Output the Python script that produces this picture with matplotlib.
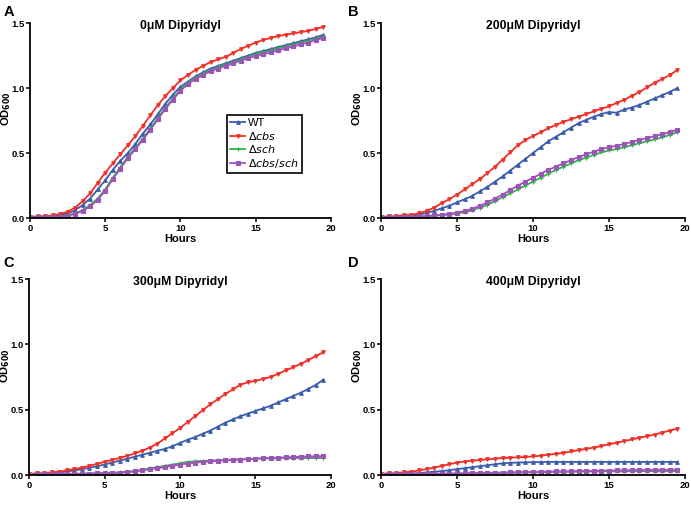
import numpy as np
import matplotlib
matplotlib.use("Agg")
import matplotlib.pyplot as plt

plt.rcParams['font.family'] = ['Liberation Sans', 'DejaVu Sans']

# sampling times (hours)
hours = np.arange(0, 20, 0.5)

# panel A - 0uM dipyridyl
a_wt = [0.005, 0.007, 0.01, 0.013, 0.02, 0.035, 0.06, 0.10, 0.15, 0.22,
        0.29, 0.37, 0.44, 0.50, 0.57, 0.65, 0.72, 0.80, 0.88, 0.95,
        1.01, 1.05, 1.09, 1.12, 1.15, 1.17, 1.19, 1.21, 1.23, 1.25,
        1.27, 1.285, 1.30, 1.315, 1.33, 1.345, 1.36, 1.375, 1.39, 1.41]
a_cbs = [0.01, 0.012, 0.015, 0.02, 0.03, 0.05, 0.08, 0.13, 0.19, 0.27,
         0.35, 0.42, 0.49, 0.56, 0.63, 0.71, 0.79, 0.87, 0.94, 1.00,
         1.06, 1.10, 1.14, 1.17, 1.20, 1.22, 1.24, 1.27, 1.30, 1.325,
         1.35, 1.37, 1.385, 1.40, 1.41, 1.42, 1.43, 1.44, 1.455, 1.47]
a_sch = [0.003, 0.004, 0.005, 0.008, 0.012, 0.02, 0.035, 0.06, 0.10, 0.15,
         0.22, 0.31, 0.39, 0.47, 0.54, 0.61, 0.69, 0.77, 0.85, 0.92,
         0.99, 1.04, 1.08, 1.11, 1.14, 1.16, 1.18, 1.20, 1.22, 1.24,
         1.26, 1.275, 1.29, 1.305, 1.32, 1.335, 1.35, 1.365, 1.38, 1.40]
a_dbl = [0.003, 0.004, 0.005, 0.007, 0.011, 0.018, 0.032, 0.055, 0.09, 0.14,
         0.21, 0.30, 0.38, 0.46, 0.53, 0.60, 0.68, 0.76, 0.84, 0.91,
         0.98, 1.03, 1.07, 1.10, 1.13, 1.15, 1.17, 1.19, 1.21, 1.23,
         1.245, 1.26, 1.275, 1.29, 1.305, 1.32, 1.335, 1.35, 1.37, 1.385]

# panel B - 200uM
b_wt = [0.005, 0.006, 0.008, 0.01, 0.015, 0.025, 0.04, 0.055, 0.075, 0.095,
        0.12, 0.145, 0.17, 0.205, 0.24, 0.28, 0.32, 0.365, 0.41, 0.455,
        0.50, 0.545, 0.59, 0.625, 0.66, 0.695, 0.73, 0.755, 0.78, 0.80,
        0.815, 0.81, 0.835, 0.85, 0.87, 0.895, 0.92, 0.945, 0.97, 1.00]
b_cbs = [0.01, 0.012, 0.015, 0.02, 0.025, 0.035, 0.055, 0.08, 0.115, 0.145,
         0.18, 0.22, 0.26, 0.30, 0.345, 0.395, 0.45, 0.505, 0.56, 0.60,
         0.63, 0.66, 0.69, 0.715, 0.74, 0.76, 0.78, 0.80, 0.82, 0.84,
         0.86, 0.885, 0.91, 0.94, 0.97, 1.005, 1.04, 1.07, 1.10, 1.14]
b_sch = [0.003, 0.004, 0.005, 0.006, 0.008, 0.01, 0.013, 0.017, 0.022, 0.028,
         0.035, 0.045, 0.06, 0.08, 0.10, 0.13, 0.16, 0.19, 0.22, 0.25,
         0.28, 0.31, 0.34, 0.37, 0.395, 0.42, 0.445, 0.465, 0.485, 0.505,
         0.52, 0.53, 0.545, 0.56, 0.575, 0.59, 0.605, 0.62, 0.64, 0.66]
b_dbl = [0.005, 0.005, 0.006, 0.008, 0.01, 0.012, 0.015, 0.02, 0.025, 0.032,
         0.04, 0.055, 0.07, 0.095, 0.12, 0.15, 0.18, 0.215, 0.25, 0.28,
         0.31, 0.34, 0.37, 0.395, 0.42, 0.445, 0.47, 0.49, 0.51, 0.53,
         0.545, 0.555, 0.57, 0.585, 0.60, 0.615, 0.63, 0.645, 0.66, 0.68]

# panel C - 300uM
c_wt = [0.005, 0.007, 0.01, 0.014, 0.02, 0.027, 0.035, 0.045, 0.055, 0.067,
        0.08, 0.095, 0.11, 0.125, 0.14, 0.155, 0.17, 0.185, 0.20, 0.22,
        0.245, 0.27, 0.29, 0.315, 0.34, 0.37, 0.40, 0.425, 0.45, 0.47,
        0.49, 0.51, 0.53, 0.555, 0.58, 0.605, 0.63, 0.66, 0.69, 0.73]
c_cbs = [0.01, 0.012, 0.015, 0.02, 0.025, 0.035, 0.045, 0.057, 0.07, 0.085,
         0.10, 0.115, 0.13, 0.147, 0.165, 0.185, 0.21, 0.24, 0.28, 0.32,
         0.36, 0.405, 0.45, 0.495, 0.54, 0.58, 0.62, 0.655, 0.69, 0.71,
         0.72, 0.735, 0.75, 0.775, 0.80, 0.825, 0.85, 0.88, 0.91, 0.94]
c_sch = [0.003, 0.004, 0.005, 0.006, 0.007, 0.008, 0.009, 0.01, 0.011, 0.013,
         0.015, 0.017, 0.02, 0.025, 0.03, 0.04, 0.05, 0.06, 0.07, 0.08,
         0.09, 0.10, 0.105, 0.108, 0.11, 0.113, 0.115, 0.118, 0.12, 0.122,
         0.125, 0.126, 0.127, 0.128, 0.13, 0.13, 0.13, 0.13, 0.13, 0.13]
c_dbl = [0.003, 0.004, 0.005, 0.006, 0.007, 0.008, 0.009, 0.01, 0.011, 0.012,
         0.014, 0.016, 0.018, 0.022, 0.027, 0.035, 0.045, 0.052, 0.06, 0.07,
         0.08, 0.088, 0.095, 0.10, 0.105, 0.109, 0.112, 0.115, 0.118, 0.121,
         0.125, 0.128, 0.13, 0.133, 0.135, 0.138, 0.14, 0.142, 0.143, 0.145]

# panel D - 400uM
d_wt = [0.005, 0.006, 0.007, 0.008, 0.01, 0.015, 0.02, 0.025, 0.03, 0.037,
        0.045, 0.052, 0.06, 0.067, 0.075, 0.082, 0.09, 0.093, 0.095, 0.097,
        0.098, 0.099, 0.10, 0.10, 0.10, 0.10, 0.10, 0.10, 0.10, 0.10,
        0.10, 0.10, 0.10, 0.10, 0.10, 0.10, 0.10, 0.10, 0.10, 0.10]
d_cbs = [0.01, 0.012, 0.015, 0.02, 0.025, 0.035, 0.045, 0.057, 0.07, 0.082,
         0.095, 0.103, 0.11, 0.115, 0.12, 0.125, 0.13, 0.133, 0.135, 0.138,
         0.142, 0.148, 0.155, 0.162, 0.17, 0.18, 0.19, 0.20, 0.21, 0.222,
         0.235, 0.247, 0.26, 0.272, 0.285, 0.297, 0.31, 0.325, 0.34, 0.355]
d_sch = [0.003, 0.004, 0.004, 0.005, 0.005, 0.006, 0.006, 0.007, 0.008, 0.009,
         0.01, 0.011, 0.012, 0.013, 0.014, 0.015, 0.016, 0.017, 0.018, 0.019,
         0.02, 0.021, 0.022, 0.023, 0.024, 0.025, 0.025, 0.026, 0.027, 0.027,
         0.028, 0.028, 0.029, 0.029, 0.03, 0.03, 0.03, 0.03, 0.03, 0.03]
d_dbl = [0.003, 0.004, 0.004, 0.005, 0.006, 0.007, 0.008, 0.009, 0.01, 0.011,
         0.012, 0.013, 0.014, 0.015, 0.016, 0.018, 0.019, 0.02, 0.022, 0.023,
         0.024, 0.025, 0.026, 0.027, 0.028, 0.029, 0.03, 0.031, 0.032, 0.033,
         0.034, 0.035, 0.036, 0.037, 0.038, 0.038, 0.039, 0.039, 0.04, 0.04]

titles = ["0\u03bcM Dipyridyl", "200\u03bcM Dipyridyl",
          "300\u03bcM Dipyridyl", "400\u03bcM Dipyridyl"]
letters = ["A", "B", "C", "D"]
strains = ["WT", r"$\Delta$$\it{cbs}$", r"$\Delta$$\it{sch}$", r"$\Delta$$\it{cbs/sch}$"]
colors = ["#3d5cad", "#f03028", "#2db34b", "#9b55b5"]
markers = ["^", "v", "+", "s"]
msizes = [2.6, 2.6, 3.2, 3.0]

panels = [[a_wt, a_cbs, a_sch, a_dbl],
          [b_wt, b_cbs, b_sch, b_dbl],
          [c_wt, c_cbs, c_sch, c_dbl],
          [d_wt, d_cbs, d_sch, d_dbl]]

fig = plt.figure(figsize=(6.91, 5.07), dpi=100)
positions = [[0.0434, 0.570, 0.4356, 0.3846],
             [0.5514, 0.570, 0.4400, 0.3846],
             [0.0420, 0.0631, 0.4370, 0.3866],
             [0.5514, 0.0631, 0.4400, 0.3866]]

for i in range(4):
    ax = fig.add_axes(positions[i])
    for j in range(4):
        ax.plot(hours, panels[i][j], color=colors[j], marker=markers[j],
                markersize=msizes[j], markeredgewidth=0.8, linewidth=1.3,
                label=strains[j])
    ax.set_xlim(0, 20)
    ax.set_ylim(0, 1.5)
    ax.set_xticks([0, 5, 10, 15, 20])
    ax.set_yticks([0, 0.5, 1.0, 1.5])
    ax.set_yticklabels(["0.0", "0.5", "1.0", "1.5"])
    for s in ["top", "right"]:
        ax.spines[s].set_visible(False)
    for s in ["left", "bottom"]:
        ax.spines[s].set_linewidth(1.3)
    ax.tick_params(direction="out", length=3, width=1.1, labelsize=6.8, pad=1)
    for lab in ax.get_xticklabels() + ax.get_yticklabels():
        lab.set_fontweight("bold")
    ax.set_xlabel("Hours", fontsize=8, fontweight="bold", labelpad=1)
    ax.set_ylabel("OD$_{\\mathbf{600}}$", fontsize=8, fontweight="bold")
    ax.yaxis.set_label_coords(-0.055, 0.56)
    ax.text(0.5, 0.985, titles[i], transform=ax.transAxes, ha="center",
            va="center", fontsize=8.8, fontweight="bold")
    if i == 0:
        leg = ax.legend(loc="upper left", bbox_to_anchor=(0.655, 0.53),
                        borderaxespad=0, fontsize=8, handlelength=1.3,
                        handletextpad=0.3, labelspacing=0.15, borderpad=0.3,
                        fancybox=False, framealpha=1, edgecolor="black")
        leg.get_frame().set_linewidth(1.2)

letter_pos = [(0.005, 0.976), (0.503, 0.976), (0.005, 0.481), (0.503, 0.481)]
for i in range(4):
    fig.text(letter_pos[i][0], letter_pos[i][1], letters[i], fontsize=10.5,
             fontweight="bold", va="center")

fig.savefig("out.png", dpi=100)
